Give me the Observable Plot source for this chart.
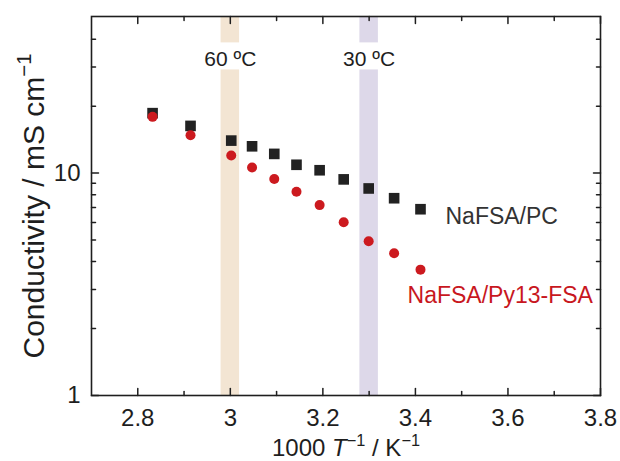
<!DOCTYPE html>
<html><head><meta charset="utf-8">
<script src="https://cdn.jsdelivr.net/npm/d3@7"></script>
<script src="https://cdn.jsdelivr.net/npm/@observablehq/plot@0.6"></script>
<style>
  body { margin: 0; background: #fff; }
  svg { font-family: "Liberation Sans", Arial, sans-serif; }
</style>
</head><body><div id="chart"></div>
<script>
// ---- data ----
const invT = [2.832, 2.914, 3.002, 3.047, 3.095, 3.143, 3.193, 3.245, 3.299, 3.354, 3.411];
const pcCond = [18.6, 16.3, 14.0, 13.2, 12.2, 10.9, 10.3, 9.37, 8.53, 7.71, 6.88];
const ilCond = [17.9, 14.8, 12.0, 10.6, 9.4, 8.25, 7.18, 6.01, 4.94, 4.36, 3.68];
const seriesNames = ["NaFSA/PC", "NaFSA/Py13-FSA"];
const seriesLabelX = [3.465, 3.383];
const seriesLabelY = [6.38, 2.81];
const bandCenters = [3.0, 3.3];
const bandLabels = ["60 ºC", "30 ºC"];
const bandHalfWidth = 0.02;
const bandGapY = [29.1, 38.5];
const bandLabelY = 32.6;
const xDomain = [2.7, 3.8];
const yDomain = [1, 50.6];
const xTicks = [2.8, 3, 3.2, 3.4, 3.6, 3.8];
const xMinorTicks = [2.9, 3.1, 3.3, 3.5, 3.7];
const yTicks = [1, 10];
const yMinorTicks = [2, 3, 4, 5, 6, 7, 8, 9, 20, 30, 40];
const xTitle = "1000 T−1 / K−1";
const yTitle = "Conductivity / mS cm−1";

// ---- derived tables ----
const pcData = invT.map((x, i) => ({x, y: pcCond[i]}));
const ilData = invT.map((x, i) => ({x, y: ilCond[i]}));
const bandColors = ["#f3e5d3", "#ddd8e9"];
const bandRects = [];
bandCenters.forEach((c, i) => {
  bandRects.push({x1: c - bandHalfWidth, x2: c + bandHalfWidth, y1: yDomain[0], y2: bandGapY[0], i});
  bandRects.push({x1: c - bandHalfWidth, x2: c + bandHalfWidth, y1: bandGapY[1], y2: yDomain[1], i});
});
const bandText = bandCenters.map((c, i) => ({x: c, y: bandLabelY, t: bandLabels[i]}));
const seriesText = seriesNames.map((t, i) => ({x: seriesLabelX[i], y: seriesLabelY[i], t}));

const ink = "#1e1e1e";
const tickShape = {draw(ctx, l) { ctx.moveTo(0, 0); ctx.lineTo(0, -l); }};
const tickMarks = (vals, axis, len) => {
  const out = [];
  if (axis === "x") {
    out.push(Plot.vector(vals, {x: d => d, y: () => yDomain[0], length: len, rotate: 0, anchor: "start", shape: tickShape, stroke: ink, strokeWidth: 1.5}));
    out.push(Plot.vector(vals, {x: d => d, y: () => yDomain[1], length: len, rotate: 180, anchor: "start", shape: tickShape, stroke: ink, strokeWidth: 1.5}));
  } else {
    out.push(Plot.vector(vals, {y: d => d, x: () => xDomain[0], length: len, rotate: 90, anchor: "start", shape: tickShape, stroke: ink, strokeWidth: 1.5}));
    out.push(Plot.vector(vals, {y: d => d, x: () => xDomain[1], length: len, rotate: -90, anchor: "start", shape: tickShape, stroke: ink, strokeWidth: 1.5}));
  }
  return out;
};

const svg = Plot.plot({
  width: 620,
  height: 461,
  marginLeft: 91,
  marginRight: 20,
  marginTop: 16,
  marginBottom: 66,
  style: {fontFamily: "Liberation Sans, Arial, sans-serif", fontSize: "24px", color: ink, background: "#fff"},
  x: {domain: xDomain, label: null},
  y: {type: "log", domain: yDomain, label: null},
  marks: [
    Plot.rect(bandRects, {x1: "x1", x2: "x2", y1: "y1", y2: "y2", fill: d => bandColors[d.i]}),
    Plot.text(bandText, {x: "x", y: "y", text: "t", fontSize: 21, fill: ink}),
    Plot.dot(pcData, {x: "x", y: "y", symbol: "square", r: 6, fill: "#222222"}),
    Plot.dot(ilData, {x: "x", y: "y", symbol: "circle", r: 5, fill: "#cc1a1f"}),
    Plot.text(seriesText, {x: "x", y: "y", text: "t", textAnchor: "start", fontSize: 23, fill: (d, i) => i === 0 ? "#333333" : "#c8171e"}),
    ...tickMarks(xTicks, "x", 7),
    ...tickMarks(xMinorTicks, "x", 4),
    ...tickMarks(yTicks, "y", 7),
    ...tickMarks(yMinorTicks, "y", 4),
    Plot.frame({stroke: ink, strokeWidth: 1.6}),
    Plot.axisX({ticks: xTicks, tickSize: 0, tickPadding: 13, tickFormat: d => String(d), label: null, fontSize: 24, fill: ink}),
    Plot.axisY({ticks: yTicks, tickSize: 0, tickPadding: 11, tickFormat: d => String(d), label: null, fontSize: 24, fill: ink}),
    Plot.text([xTitle], {frameAnchor: "bottom", lineAnchor: "middle", textAnchor: "middle", dy: 53, text: d => d, fontSize: 24, fill: ink}),
    Plot.text([yTitle], {frameAnchor: "left", lineAnchor: "middle", textAnchor: "middle", dx: -57.6, rotate: -90, text: d => d, fontSize: 30, fill: ink})
  ]
});

function richText(content, parts, fontSize) {
  const el = Array.from(svg.querySelectorAll("text")).find(t => t.textContent === content);
  if (!el) return;
  el.textContent = "";
  const ns = "http://www.w3.org/2000/svg";
  const shift = 0.42 * fontSize;
  let cur = 0;
  for (const p of parts) {
    const t = document.createElementNS(ns, "tspan");
    t.textContent = p.t;
    if (p.italic) t.setAttribute("font-style", "italic");
    if (p.sup) t.setAttribute("font-size", (0.68 * fontSize) + "px");
    const target = p.sup ? -shift : 0;
    if (target !== cur) { t.setAttribute("dy", target - cur); cur = target; }
    el.appendChild(t);
  }
}
richText(xTitle, [
  {t: "1000 "}, {t: "T", italic: true}, {t: "−1", sup: true}, {t: " / K"}, {t: "−1", sup: true}
], 24);
richText(yTitle, [
  {t: "Conductivity / mS cm"}, {t: "−1", sup: true}
], 30);

document.getElementById("chart").appendChild(svg);
</script>
</body></html>
